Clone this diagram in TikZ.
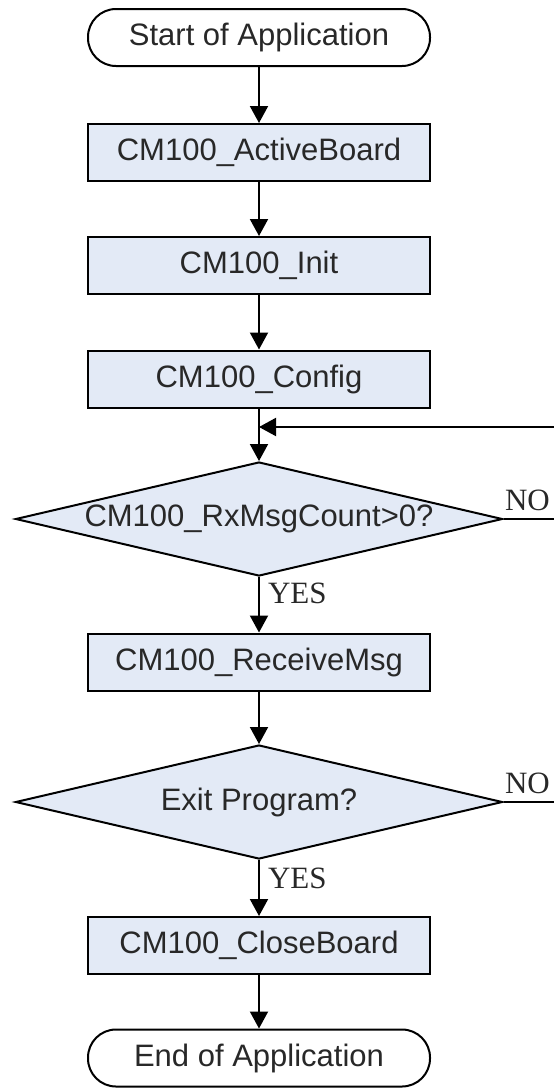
\documentclass[tikz,border=0pt]{standalone}
\usepackage{fontspec}
\setmainfont{Liberation Sans}
\newfontfamily\serifnote{Liberation Serif}
\usetikzlibrary{shapes.geometric,arrows.meta}
\definecolor{boxfill}{RGB}{227,234,246}
\definecolor{txt}{RGB}{40,40,40}
\begin{document}
\begin{tikzpicture}[x=1pt,y=-1pt,
  line width=2pt,
  >={Triangle[width=18pt,length=17pt]},
  every node/.style={font=\fontsize{31}{36}\selectfont, text=txt},
  proc/.style={draw=black, fill=boxfill, minimum width=342pt, minimum height=57pt, inner sep=0pt},
  term/.style={draw=black, fill=white, rounded corners=28pt, minimum width=342pt, minimum height=57pt, inner sep=0pt},
  decide/.style={draw=black, fill=boxfill, diamond, minimum width=487pt, minimum height=114pt, aspect=4.27, inner sep=0pt},
  lbl/.style={font=\serifnote\fontsize{31}{34}\selectfont, inner sep=0pt},
  flow/.style={->}
]
\useasboundingbox (0,0) rectangle (554,1088);

\node[term] (start) at (259,37.5) {Start of Application};
\node[proc] (ab) at (259,152.5) {CM100\_ActiveBoard};
\node[proc] (init) at (259,265.5) {CM100\_Init};
\node[proc] (cfg) at (259,379) {CM100\_Config};
\node[decide] (d1) at (259,519) {CM100\_RxMsgCount>0?};
\node[proc] (recv) at (259,662) {CM100\_ReceiveMsg};
\node[decide] (d2) at (259,802) {Exit Program?};
\node[proc] (close) at (259,945.5) {CM100\_CloseBoard};
\node[term] (end) at (259,1058) {End of Application};

\coordinate (join) at (259,427);
\coordinate (loopin) at (554,427);
\coordinate (noend1) at (554,519);
\coordinate (noend2) at (554,802);

\draw[flow] (start) -- (ab);
\draw[flow] (ab) -- (init);
\draw[flow] (init) -- (cfg);
\draw (cfg) -- (join);
\draw[flow] (join) -- (d1);
\draw[flow] (loopin) -- (join);
\draw (d1.east) -- (noend1);
\draw[flow] (d1) -- (recv);
\draw[flow] (recv) -- (d2);
\draw (d2.east) -- (noend2);
\draw[flow] (d2) -- (close);
\draw[flow] (close) -- (end);

\node[lbl, anchor=west] (yes1) at (267,593) {YES};
\node[lbl, anchor=west] (no1) at (504,500) {NO};
\node[lbl, anchor=west] (yes2) at (267,878) {YES};
\node[lbl, anchor=west] (no2) at (504,783) {NO};
\end{tikzpicture}
\end{document}
